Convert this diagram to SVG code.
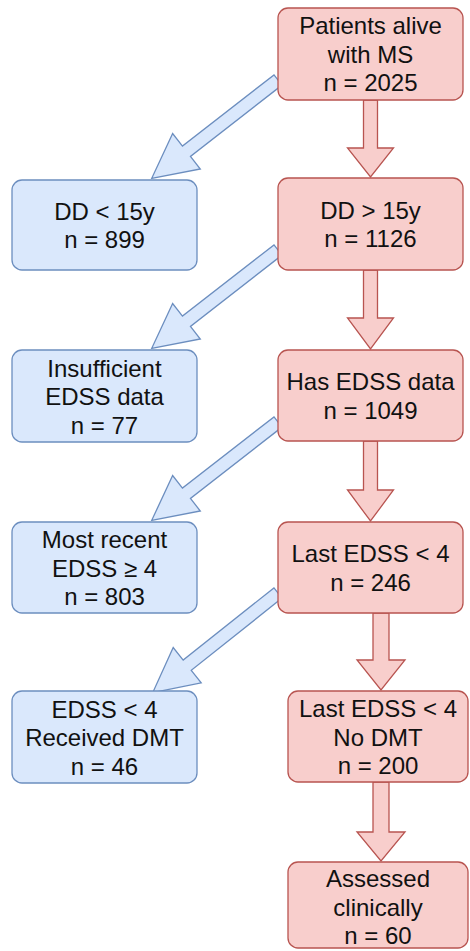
<svg xmlns="http://www.w3.org/2000/svg" width="470" height="951" viewBox="0 0 470 951">
<style>
.pink{fill:#f8cecc;stroke:#b85450;stroke-width:1.3}
.blue{fill:#dae8fc;stroke:#6c8ebf;stroke-width:1.3}
text{font-family:"Liberation Sans",Arial,Helvetica,sans-serif;font-size:24px;fill:#111;text-anchor:middle}
</style>
<defs>
<polygon id="diag" points="0,-6.5 116,-6.5 116,-22.5 160,0 116,22.5 116,6.5 0,6.5"/>
</defs>
<rect width="470" height="951" fill="#ffffff"/>
<g id="connectors">
<use href="#diag" class="blue" transform="translate(278,80) rotate(142.1)"/>
<use href="#diag" class="blue" transform="translate(278,250) rotate(142.1)"/>
<use href="#diag" class="blue" transform="translate(278,422) rotate(142.1)"/>
<use href="#diag" class="blue" transform="translate(278,593) rotate(141.5)"/>
<polygon class="pink" points="363.5,100 377.5,100 377.5,148 393.5,148 370.5,177 347.5,148 363.5,148 363.5,100"/>
<polygon class="pink" points="363.5,270 377.5,270 377.5,318 393.5,318 370.5,349 347.5,318 363.5,318 363.5,270"/>
<polygon class="pink" points="363.5,441 377.5,441 377.5,490 393.5,490 370.5,521 347.5,490 363.5,490 363.5,441"/>
<polygon class="pink" points="373,613 389,613 389,660 405,660 381,690 357,660 373,660 373,613"/>
<polygon class="pink" points="373,782 389,782 389,832 405,832 381,861 357,832 373,832 373,782"/>
</g>
<g id="n1">
<rect class="pink" x="278" y="8" width="185" height="92" rx="10"/>
<text x="370.5" y="34">Patients alive</text>
<text x="370.5" y="62.5">with MS</text>
<text x="370.5" y="91">n = 2025</text>
</g>
<g id="n2">
<rect class="pink" x="278" y="178" width="185" height="92" rx="10"/>
<text x="370.5" y="218.5">DD &gt; 15y</text>
<text x="370.5" y="247">n = 1126</text>
</g>
<g id="n3">
<rect class="pink" x="278" y="350" width="185" height="91" rx="10"/>
<text x="370.5" y="390">Has EDSS data</text>
<text x="370.5" y="418.5">n = 1049</text>
</g>
<g id="n4">
<rect class="pink" x="278" y="522" width="185" height="91" rx="10"/>
<text x="370.5" y="562">Last EDSS &lt; 4</text>
<text x="370.5" y="590.5">n = 246</text>
</g>
<g id="n5">
<rect class="pink" x="288" y="691" width="180" height="91" rx="10"/>
<text x="378" y="717">Last EDSS &lt; 4</text>
<text x="378" y="745.5">No DMT</text>
<text x="378" y="774">n = 200</text>
</g>
<g id="n6">
<rect class="pink" x="288" y="862" width="180" height="86" rx="10"/>
<text x="378" y="887">Assessed</text>
<text x="378" y="915.5">clinically</text>
<text x="378" y="944">n = 60</text>
</g>
<g id="b1">
<rect class="blue" x="12" y="180" width="185" height="90" rx="10"/>
<text x="104.5" y="219.5">DD &lt; 15y</text>
<text x="104.5" y="248">n = 899</text>
</g>
<g id="b2">
<rect class="blue" x="12" y="350" width="185" height="92" rx="10"/>
<text x="104.5" y="376.5">Insufficient</text>
<text x="104.5" y="405">EDSS data</text>
<text x="104.5" y="433.5">n = 77</text>
</g>
<g id="b3">
<rect class="blue" x="12" y="522" width="185" height="91" rx="10"/>
<text x="104.5" y="548">Most recent</text>
<text x="104.5" y="576.5">EDSS ≥ 4</text>
<text x="104.5" y="605">n = 803</text>
</g>
<g id="b4">
<rect class="blue" x="12" y="691" width="185" height="92" rx="10"/>
<text x="104.5" y="717.5">EDSS &lt; 4</text>
<text x="104.5" y="746">Received DMT</text>
<text x="104.5" y="774.5">n = 46</text>
</g>
</svg>
